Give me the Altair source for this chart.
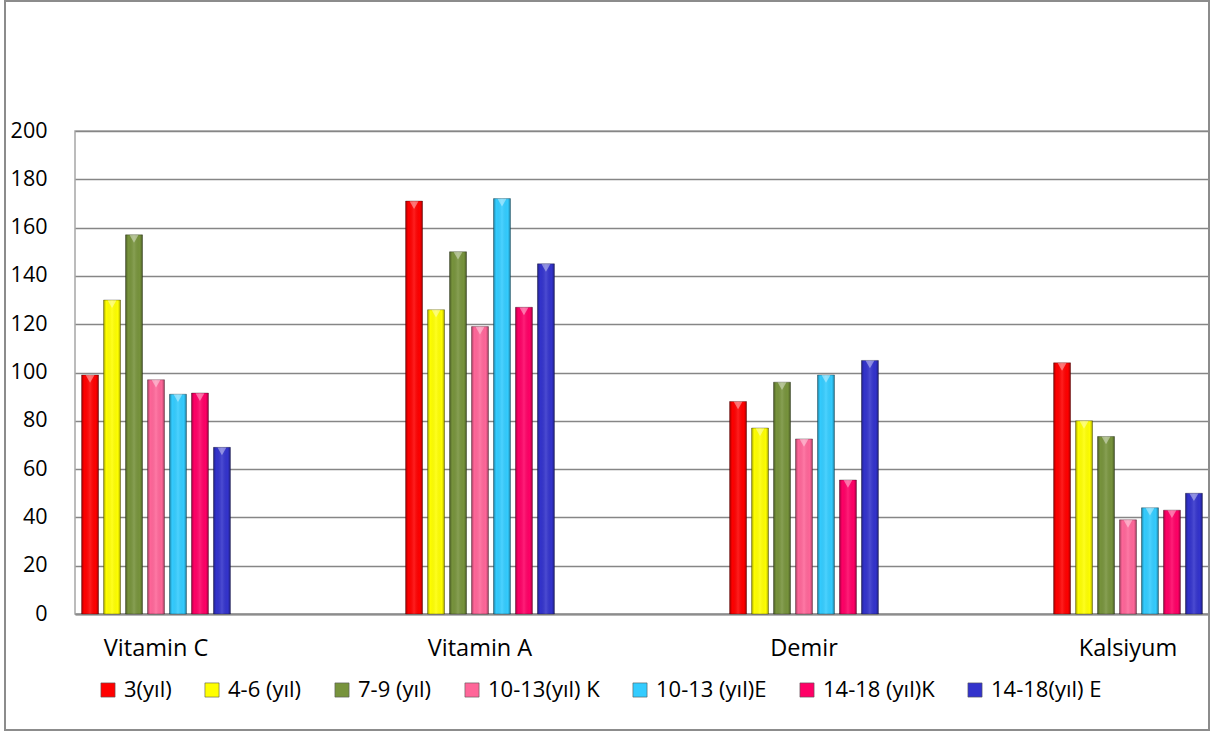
import altair as alt
import pandas as pd

# Nutrient groups on the x axis and the age/sex groups drawn as bars in each
nutrients = ["Vitamin C", "Vitamin A", "Demir", "Kalsiyum"]
groups = ["3(yıl)", "4-6 (yıl)", "7-9 (yıl)", "10-13(yıl) K",
          "10-13 (yıl)E", "14-18 (yıl)K", "14-18(yıl) E"]
group_colors = ["#FF0000", "#FFFF00", "#77933C", "#FF6699",
                "#33CCFF", "#FF0066", "#3333CC"]

# One list per age/sex group, in nutrient order
v_3 = [99, 171, 88, 104]
v_4_6 = [130, 126, 77, 80]
v_7_9 = [157, 150, 96, 73.5]
v_10_13_k = [97, 119, 72.5, 39]
v_10_13_e = [91, 172, 99, 44]
v_14_18_k = [91.5, 127, 55.5, 43]
v_14_18_e = [69, 145, 105, 50]

series = [v_3, v_4_6, v_7_9, v_10_13_k, v_10_13_e, v_14_18_k, v_14_18_e]
rows = []
for g, vals in zip(groups, series):
    for n, v in zip(nutrients, vals):
        rows.append({"besin": n, "grup": g, "deger": v})
df = pd.DataFrame(rows)

FONT = "Open Sans"
W, H = 1134, 483

x_enc = alt.X("besin:N", sort=nutrients, title=None,
              scale=alt.Scale(paddingInner=0.5, paddingOuter=0),
              axis=alt.Axis(labelAngle=0, ticks=False, domain=True,
                            domainColor="#8c8c8c", domainWidth=2,
                            labelPadding=22, labelFontSize=23.5,
                            labelFontWeight="normal",
                            labelColor="#000000", labelFont=FONT))
xo_enc = alt.XOffset("grup:N", sort=groups,
                     scale=alt.Scale(paddingInner=0.23, paddingOuter=0.3))
y_enc = alt.Y("deger:Q", title=None,
              scale=alt.Scale(domain=[0, 200], nice=False),
              axis=alt.Axis(values=list(range(0, 201, 20)), ticks=False,
                            domain=False, grid=True, gridColor="#868686",
                            gridWidth=1.5, labelPadding=28, labelFontSize=21.5,
                            labelFontWeight="normal",
                            labelColor="#000000", labelFont=FONT))
color_enc = alt.Color("grup:N", sort=groups,
                      scale=alt.Scale(domain=groups, range=group_colors),
                      legend=alt.Legend(title=None, orient="none",
                                        direction="horizontal", columns=7,
                                        legendX=22, legendY=548,
                                        symbolType="square", symbolSize=200,
                                        symbolStrokeColor="#555555",
                                        symbolStrokeWidth=0.6,
                                        symbolOpacity=1,
                                        labelFontSize=22, labelFont=FONT,
                                        labelFontWeight="normal",
                                        labelColor="#000000", labelOffset=5,
                                        columnPadding=29))

base = alt.Chart(df)

bars = base.mark_bar(stroke="#000000", strokeOpacity=0.3, strokeWidth=1,
                     opacity=1).encode(
    x=x_enc, xOffset=xo_enc, y=y_enc, color=color_enc)

# Bevel shading across each bar: darker edges, slightly lighter middle
bevel = base.mark_bar(
    color=alt.Gradient(
        gradient="linear", x1=0, x2=1, y1=0, y2=0,
        stops=[
            alt.GradientStop(offset=0, color="rgba(0,0,0,0.38)"),
            alt.GradientStop(offset=0.15, color="rgba(0,0,0,0)"),
            alt.GradientStop(offset=0.5, color="rgba(255,255,255,0.12)"),
            alt.GradientStop(offset=0.85, color="rgba(0,0,0,0)"),
            alt.GradientStop(offset=1, color="rgba(0,0,0,0.38)"),
        ])
).encode(x=alt.X("besin:N", sort=nutrients), xOffset=xo_enc, y="deger:Q")

# Light wedge at the top of each bar
caps = base.mark_point(shape="triangle-down", filled=True, color="white",
                       opacity=0.4, size=80, yOffset=4).encode(
    x=alt.X("besin:N", sort=nutrients), xOffset=xo_enc, y="deger:Q")

# Outer frame around the whole chart
frame_df = pd.DataFrame({"k": [0]})
frame = alt.Chart(frame_df).mark_rect(
    fill=None, stroke="#8c8c8c", strokeWidth=2, clip=False
).encode(x=alt.value(-70), x2=alt.value(1134),
         y=alt.value(-130), y2=alt.value(599))

chart = alt.layer(bars, bevel, caps, frame).properties(
    width=W, height=H,
    padding={"left": 75, "top": 131, "right": 13, "bottom": 117},
    autosize=alt.AutoSizeParams(type="none"),
    background="white",
).configure_view(stroke="#a6a6a6", strokeWidth=1.5)

chart.save("out.html", embed_options={"renderer": "svg", "actions": False})
